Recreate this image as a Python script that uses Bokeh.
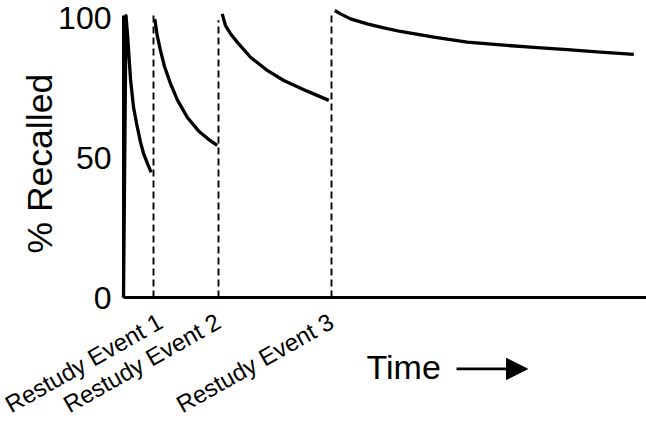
import math
from bokeh.plotting import figure
from bokeh.models import FixedTicker, Arrow, NormalHead, Range1d, LinearAxis
from bokeh.core.properties import value
from bokeh.embed import file_html
from bokeh.resources import INLINE

# ---- data (time in arbitrary units, % recalled) ----
curve1_t = [0, 2.5, 4.2, 5.5, 7, 10, 13.7, 17, 20, 24, 27.7]
curve1_v = [0, 100.7, 93, 86, 78, 68, 61, 55.5, 51.5, 47.8, 44.7]

curve2_t = [31.3, 33.5, 37, 41, 47, 54, 63.7, 75, 85, 93.7]
curve2_v = [99.5, 94, 88.2, 82.5, 76.4, 70.5, 64.4, 59.5, 56.5, 54.3]

curve3_t = [98.7, 102, 107, 113.7, 127, 143.7, 160.3, 183.7, 205.3]
curve3_v = [101.3, 97.1, 94.2, 91.2, 85.8, 81.1, 77.5, 73.7, 70.4]

curve4_t = [211.3, 217, 227, 243.7, 260.3, 277, 310.3, 343.7, 377, 410.3, 443.7, 477, 510.3]
curve4_v = [102.5, 101.3, 99.5, 97.7, 96.3, 95.0, 93.0, 91.2, 90.2, 89.3, 88.5, 87.6, 86.8]

restudy_t = [30, 95, 208]
restudy_top = [101, 99, 101]
restudy_labels = ["Restudy Event 1", "Restudy Event 2", "Restudy Event 3"]

y_ticks = [0, 50, 100]
y_title = "% Recalled"
x_title = "Time"

# ---- layout constants ----
FONT = "Liberation Sans"
YTITLE_X, YTITLE_Y = -84, 47.8
TIME_X, TIME_Y = 243, -24.7
ARROW_X0, ARROW_X1, ARROW_Y = 333, 404, -25.5

p = figure(width=646, height=422, output_backend="svg", toolbar_location=None,
           x_range=Range1d(-123, 523), y_range=Range1d(-44.64, 106.07),
           x_axis_location=None, y_axis_location=None,
           min_border_left=0, min_border_right=0, min_border_top=0,
           min_border_bottom=0)
p.outline_line_color = None
p.grid.visible = False
p.background_fill_color = "white"
p.border_fill_color = "white"

for t, v in [(curve1_t, curve1_v), (curve2_t, curve2_v), (curve3_t, curve3_v), (curve4_t, curve4_v)]:
    p.line(t, v, line_color="black", line_width=3.3, line_join="round")

p.segment(x0=restudy_t, y0=[0] * len(restudy_t), x1=restudy_t, y1=restudy_top,
          line_color="black", line_width=1.9, line_dash="7 4")

# x axis, drawn at value 0
xa = LinearAxis(fixed_location=0, bounds=(-0.5, 523))
xa.ticker = FixedTicker(ticks=restudy_t)
xa.major_label_overrides = {t: lab for t, lab in zip(restudy_t, restudy_labels)}
xa.major_label_orientation = math.radians(29.5)
xa.axis_line_color = "black"
xa.axis_line_width = 3
xa.major_tick_line_color = None
xa.minor_tick_line_color = None
xa.major_tick_out = 0
xa.major_tick_in = 0
xa.major_label_standoff = 22
xa.major_label_text_font = FONT
xa.major_label_text_font_size = "24px"
xa.major_label_text_color = "black"
p.add_layout(xa, "below")

# y axis, drawn at time 0
ya = LinearAxis(fixed_location=0, bounds=(0, 100.7))
ya.ticker = FixedTicker(ticks=y_ticks)
ya.axis_line_color = "black"
ya.axis_line_width = 3
ya.major_tick_line_color = None
ya.minor_tick_line_color = None
ya.major_tick_out = 0
ya.major_tick_in = 0
ya.major_label_standoff = 12
ya.major_label_text_font = FONT
ya.major_label_text_font_size = "32px"
ya.major_label_text_color = "black"
p.add_layout(ya, "left")

p.text(x=[YTITLE_X], y=[YTITLE_Y], text=[y_title], angle=math.pi / 2,
       text_align="center", text_baseline="middle", text_font=value(FONT),
       text_font_size="35.5px", text_color="black")

p.text(x=[TIME_X], y=[TIME_Y], text=[x_title], text_align="left",
       text_baseline="middle", text_font=value(FONT), text_font_size="34px",
       text_color="black")

p.add_layout(Arrow(end=NormalHead(size=21, fill_color="black", line_color="black"),
                   x_start=ARROW_X0, y_start=ARROW_Y, x_end=ARROW_X1, y_end=ARROW_Y,
                   line_width=2.7, line_color="black"))

open("out.html", "w").write(file_html(p, INLINE))
